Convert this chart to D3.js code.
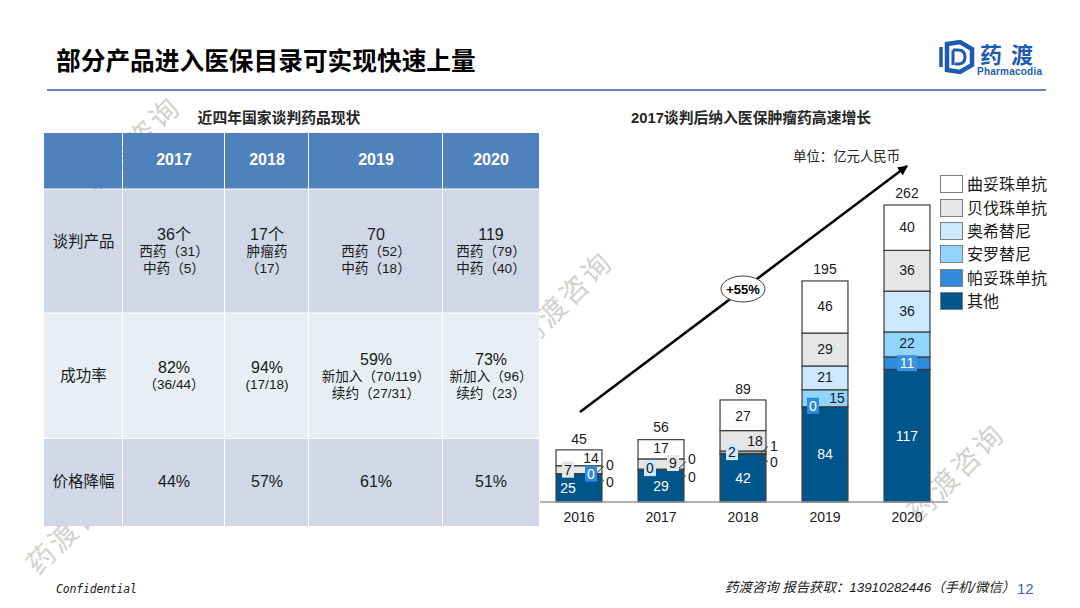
<!DOCTYPE html>
<html>
<head>
<meta charset="utf-8">
<script src="https://cdn.jsdelivr.net/npm/d3@7"></script>
<style>
    html, body { margin: 0; padding: 0; background: #fff; }
    svg { display: block; }
    text { font-family: "Liberation Sans", "Noto Sans CJK SC", sans-serif; }
</style>
</head>
<body>
<div id="chart"></div>
<script>
// bar chart data
const years = ['2016', '2017', '2018', '2019', '2020'];
const totals = [45, 56, 89, 195, 262];
const other = [25, 29, 42, 84, 117];
const pertuzumab = [0, 0, 0, 0, 11];
const anlotinib = [0, 0, 1, 15, 22];
const osimertinib = [0, 0, 2, 21, 36];
const bevacizumab = [7, 9, 18, 29, 36];
const trastuzumab = [14, 17, 27, 46, 40];

// bottom to top
const seriesNames = ['其他', '帕妥珠单抗', '安罗替尼', '奥希替尼', '贝伐珠单抗', '曲妥珠单抗'];
const seriesValues = [other, pertuzumab, anlotinib, osimertinib, bevacizumab, trastuzumab];
const seriesColors = ['#00558a', '#2e8bdc', '#91d5ff', '#cce9ff', '#e6e6e6', '#ffffff'];

// table data
const tableYears = ['2017', '2018', '2019', '2020'];
const tableLabels = ['谈判产品', '成功率', '价格降幅'];
const products = [
    ['36个', '西药（31）', '中药（5）'],
    ['17个', '肿瘤药', '（17）'],
    ['70', '西药（52）', '中药（18）'],
    ['119', '西药（79）', '中药（40）'],
];
const successRates = [
    ['82%', '（36/44）'],
    ['94%', '(17/18)'],
    ['59%', '新加入（70/119）', '续约（27/31）'],
    ['73%', '新加入（96）', '续约（23）'],
];
const priceCuts = [['44%'], ['57%'], ['61%'], ['51%']];
const tableRows = [products, successRates, priceCuts];

// label placement for the crowded small segments: [dx, dy] from segment centre, per series per year
const labelNudges = [
    [[-11, 0], [0, 0], [0, 0], [0, 0], [0, 0]],
    [[12, 0], [31, 8], [31, 8], [-12, -1], [0, 0]],
    [[31, 8], [31, -10], [31, -8], [12, 0], [0, -1]],
    [[31, -9], [-11, -1], [-11, 0], [0, -1], [0, -1]],
    [[-11, 0], [12, -1], [12, 0], [0, -1], [0, -1]],
    [[12, 0], [0, -1], [0, 1], [0, -1], [0, -1]],
];

const width = 1080;
const height = 608;

const svg = d3.select('#chart')
    .append('svg')
    .attr('width', width)
    .attr('height', height)
    .attr('viewBox', `0 0 ${width} ${height}`);

const cjk = '"Noto Sans CJK SC", sans-serif';

// watermarks go first, table and bars sit on top of them
[[132, 145], [564, 300], [75, 525], [956, 472]].forEach(([x, y]) => {
    svg.append('text')
        .attr('transform', `translate(${x},${y}) rotate(-45)`)
        .attr('text-anchor', 'middle')
        .attr('dy', '0.36em')
        .attr('letter-spacing', 3)
        .style('font-family', cjk)
        .style('font-size', '28px')
        .style('font-weight', 400)
        .attr('fill', '#d2d2cc')
        .text('药渡咨询');
});

// header
svg.append('text')
    .attr('x', 56).attr('y', 70)
    .style('font-family', cjk)
    .style('font-size', '24.7px')
    .style('font-weight', 700)
    .attr('fill', '#000')
    .text('部分产品进入医保目录可实现快速上量');

svg.append('line')
    .attr('x1', 47).attr('x2', 1046)
    .attr('y1', 90).attr('y2', 90)
    .attr('stroke', '#3a58a8')
    .attr('stroke-width', 1.5);

// logo
const logo = svg.append('g').attr('fill', 'none').attr('stroke', '#1d5bb0');
logo.append('path')
    .attr('d', 'M947 44 L960 42 L972 49 L972 65 L960 72 L947 70 Z')
    .attr('stroke-width', 4.5);
logo.append('path')
    .attr('d', 'M941 47 L941 67')
    .attr('stroke-width', 3.5);
logo.append('path')
    .attr('d', 'M953 50 L953 65 M953 50 L958 50 Q965 50 965 57 Q965 64 958 64 L955 64')
    .attr('stroke-width', 3);
svg.append('text')
    .attr('x', 980).attr('y', 63)
    .attr('letter-spacing', 9)
    .style('font-family', cjk)
    .style('font-size', '22px')
    .style('font-weight', 700)
    .attr('fill', '#1d5bb0')
    .text('药渡');
svg.append('text')
    .attr('x', 977).attr('y', 75)
    .attr('textLength', 65)
    .style('font-size', '10px')
    .style('font-weight', 700)
    .attr('fill', '#1d5bb0')
    .text('Pharmacodia');

// section titles
const sectionTitle = (x, label) => svg.append('text')
    .attr('x', x).attr('y', 123)
    .attr('text-anchor', 'middle')
    .style('font-size', '14.8px')
    .style('font-weight', 700)
    .attr('fill', '#262626')
    .text(label);
sectionTitle(279, '近四年国家谈判药品现状');
sectionTitle(751, '2017谈判后纳入医保肿瘤药高速增长');

// table
const colEdges = [44, 123, 225, 309, 443, 539];
const rowEdges = [133, 189.5, 313.5, 439, 526];
const rowFills = ['#4f81bd', '#d0d8e8', '#e9edf4', '#d0d8e8'];
const firstLineY = [
    [235, 235, 235, 235],
    [368, 368, 360, 360],
    [482, 482, 482, 482],
];
const rowLabelY = [242, 376, 482];

const table = svg.append('g');

rowFills.forEach((fill, r) => {
    d3.range(5).forEach(c => {
        table.append('rect')
            .attr('x', colEdges[c])
            .attr('y', rowEdges[r])
            .attr('width', colEdges[c + 1] - colEdges[c] - (c < 4 ? 1 : 0))
            .attr('height', rowEdges[r + 1] - rowEdges[r] - (r < 3 ? 1 : 0))
            .attr('fill', fill);
    });
});

const colCenter = i => (colEdges[i] + colEdges[i + 1]) / 2;

tableYears.forEach((year, i) => {
    table.append('text')
        .attr('x', colCenter(i + 1)).attr('y', 165)
        .attr('text-anchor', 'middle')
        .style('font-size', '16px')
        .style('font-weight', 700)
        .attr('fill', '#fff')
        .text(year);
});

tableLabels.forEach((label, r) => {
    table.append('text')
        .attr('x', colCenter(0)).attr('y', rowLabelY[r] + 5)
        .attr('text-anchor', 'middle')
        .style('font-size', '15.5px')
        .attr('fill', '#1a1a1a')
        .text(label);

    tableRows[r].forEach((lines, i) => {
        lines.forEach((line, l) => {
            table.append('text')
                .attr('x', colCenter(i + 1))
                .attr('y', firstLineY[r][i] + 5 + l * 17 - (l ? 1 : 0))
                .attr('text-anchor', 'middle')
                .style('font-size', l ? '13.6px' : '16px')
                .attr('fill', '#1a1a1a')
                .text(line);
        });
    });
});

// stacked bars
const xScale = d3.scaleBand()
    .domain(years)
    .range([538, 948])
    .paddingInner(0.44)
    .paddingOuter(0.22);

const yScale = d3.scaleLinear()
    .domain([0, 262])
    .range([502, 205]);

const stackRows = years.map((year, i) => {
    const row = { year };
    seriesNames.forEach((name, s) => { row[name] = seriesValues[s][i]; });
    return row;
});
const stacked = d3.stack().keys(seriesNames)(stackRows);

const bars = svg.append('g');

stacked.forEach((layer, s) => {
    bars.append('g')
        .attr('fill', seriesColors[s])
        .attr('stroke', '#3c3c3c')
        .attr('stroke-width', 1.2)
        .selectAll('rect')
        .data(layer.filter(d => d[1] > d[0]))
        .join('rect')
        .attr('x', d => xScale(d.data.year))
        .attr('y', d => yScale(d[1]))
        .attr('width', xScale.bandwidth())
        .attr('height', d => yScale(d[0]) - yScale(d[1]));
});

// category axis
const xAxis = d3.axisBottom(xScale).tickSize(0).tickPadding(10);
const axisG = svg.append('g')
    .attr('transform', 'translate(0,502)')
    .call(xAxis);
axisG.select('.domain')
    .attr('d', 'M540,0H948')
    .attr('stroke', '#999')
    .attr('stroke-width', 1.5);
axisG.selectAll('text')
    .style('font-size', '14px')
    .style('font-family', '"Liberation Sans", sans-serif')
    .attr('fill', '#1a1a1a');

// segment labels
const labels = svg.append('g');
const leaders = svg.append('g').attr('stroke', '#404040').attr('stroke-width', 1);

stacked.forEach((layer, s) => {
    layer.forEach((d, i) => {
        const [dx, dy] = labelNudges[s][i];
        const cx = xScale(d.data.year) + xScale.bandwidth() / 2;
        const cy = yScale((d[0] + d[1]) / 2);
        const x = cx + dx;
        const y = cy + dy;
        const isNudged = Math.abs(dx) > 0;

        // small values moved outside the bar get a short leader
        if (dx === 31) {
            const dir = dy < 0 ? -1 : 1;
            leaders.append('line')
                .attr('x1', cx + 18).attr('y1', cy + dir)
                .attr('x2', cx + 25).attr('y2', cy + dir + 6.5 * dir);
        }

        // labels that sit over another segment keep a patch of their own colour
        if (isNudged && dx !== 31 && s !== 2 && !(s === 5) && !(s === 0)) {
            const w = String(d[1] - d[0]).length * 8 + 4;
            labels.append('rect')
                .attr('x', x - w / 2).attr('y', y - 8)
                .attr('width', w).attr('height', 16)
                .attr('fill', seriesColors[s]);
        }
        if (s === 1 && seriesValues[s][i] === 11) {
            labels.append('rect')
                .attr('x', x - 10).attr('y', y - 8)
                .attr('width', 20).attr('height', 16)
                .attr('fill', '#3a93e0');
        }

        labels.append('text')
            .attr('x', x).attr('y', y)
            .attr('dy', '0.36em')
            .attr('text-anchor', 'middle')
            .style('font-size', '14px')
            .attr('fill', (s <= 1 && dx !== 31) ? '#fff' : '#1a1a1a')
            .text(seriesValues[s][i]);
    });
});

// totals
svg.append('g')
    .selectAll('text')
    .data(totals)
    .join('text')
    .attr('x', (d, i) => xScale(years[i]) + xScale.bandwidth() / 2)
    .attr('y', d => yScale(d) - 12)
    .attr('dy', '0.36em')
    .attr('text-anchor', 'middle')
    .style('font-size', '14px')
    .attr('fill', '#1a1a1a')
    .text(d => d);

// growth arrow
svg.append('defs').append('marker')
    .attr('id', 'head')
    .attr('viewBox', '0 0 10 10')
    .attr('refX', 9).attr('refY', 5)
    .attr('markerWidth', 4).attr('markerHeight', 4)
    .attr('markerUnits', 'strokeWidth')
    .attr('orient', 'auto')
    .append('path')
    .attr('d', 'M0,0L10,5L0,10Z')
    .attr('fill', '#000');

svg.append('line')
    .attr('x1', 580).attr('y1', 412)
    .attr('x2', 907).attr('y2', 166)
    .attr('stroke', '#000')
    .attr('stroke-width', 2.5)
    .attr('marker-end', 'url(#head)');

svg.append('ellipse')
    .attr('cx', 743).attr('cy', 289)
    .attr('rx', 22).attr('ry', 13)
    .attr('fill', '#fff')
    .attr('stroke', '#404040')
    .attr('stroke-width', 1);

svg.append('text')
    .attr('x', 743).attr('y', 289)
    .attr('dy', '0.36em')
    .attr('text-anchor', 'middle')
    .style('font-size', '13px')
    .style('font-weight', 700)
    .attr('fill', '#000')
    .text('+55%');

svg.append('text')
    .attr('x', 793).attr('y', 161)
    .style('font-size', '13.4px')
    .attr('fill', '#262626')
    .text('单位：亿元人民币');

// legend
const legendY = [175, 199, 222, 245, 269, 292];
const legendOrder = d3.range(6).reverse();
const legend = svg.append('g');

legendOrder.forEach((s, i) => {
    legend.append('rect')
        .attr('x', 940.5).attr('y', legendY[i] + 0.5)
        .attr('width', 22).attr('height', 17)
        .attr('fill', seriesColors[s])
        .attr('stroke', '#7f7f7f')
        .attr('stroke-width', 1);
    legend.append('text')
        .attr('x', 967).attr('y', legendY[i] + 9)
        .attr('dy', '0.38em')
        .style('font-size', '16px')
        .attr('fill', '#1a1a1a')
        .text(seriesNames[s]);
});

// footer
svg.append('text')
    .attr('x', 56).attr('y', 593)
    .style('font-family', '"DejaVu Sans Mono", monospace')
    .style('font-size', '11.5px')
    .style('font-style', 'italic')
    .attr('textLength', 81)
    .attr('fill', '#1a1a1a')
    .text('Confidential');

svg.append('text')
    .attr('x', 725).attr('y', 592)
    .style('font-size', '13.4px')
    .style('font-style', 'italic')
    .attr('fill', '#1a1a1a')
    .text('药渡咨询 报告获取：13910282446（手机/微信）');

svg.append('text')
    .attr('x', 1017).attr('y', 594)
    .style('font-size', '15px')
    .attr('fill', '#4a5ea8')
    .text('12');
</script>
</body>
</html>
